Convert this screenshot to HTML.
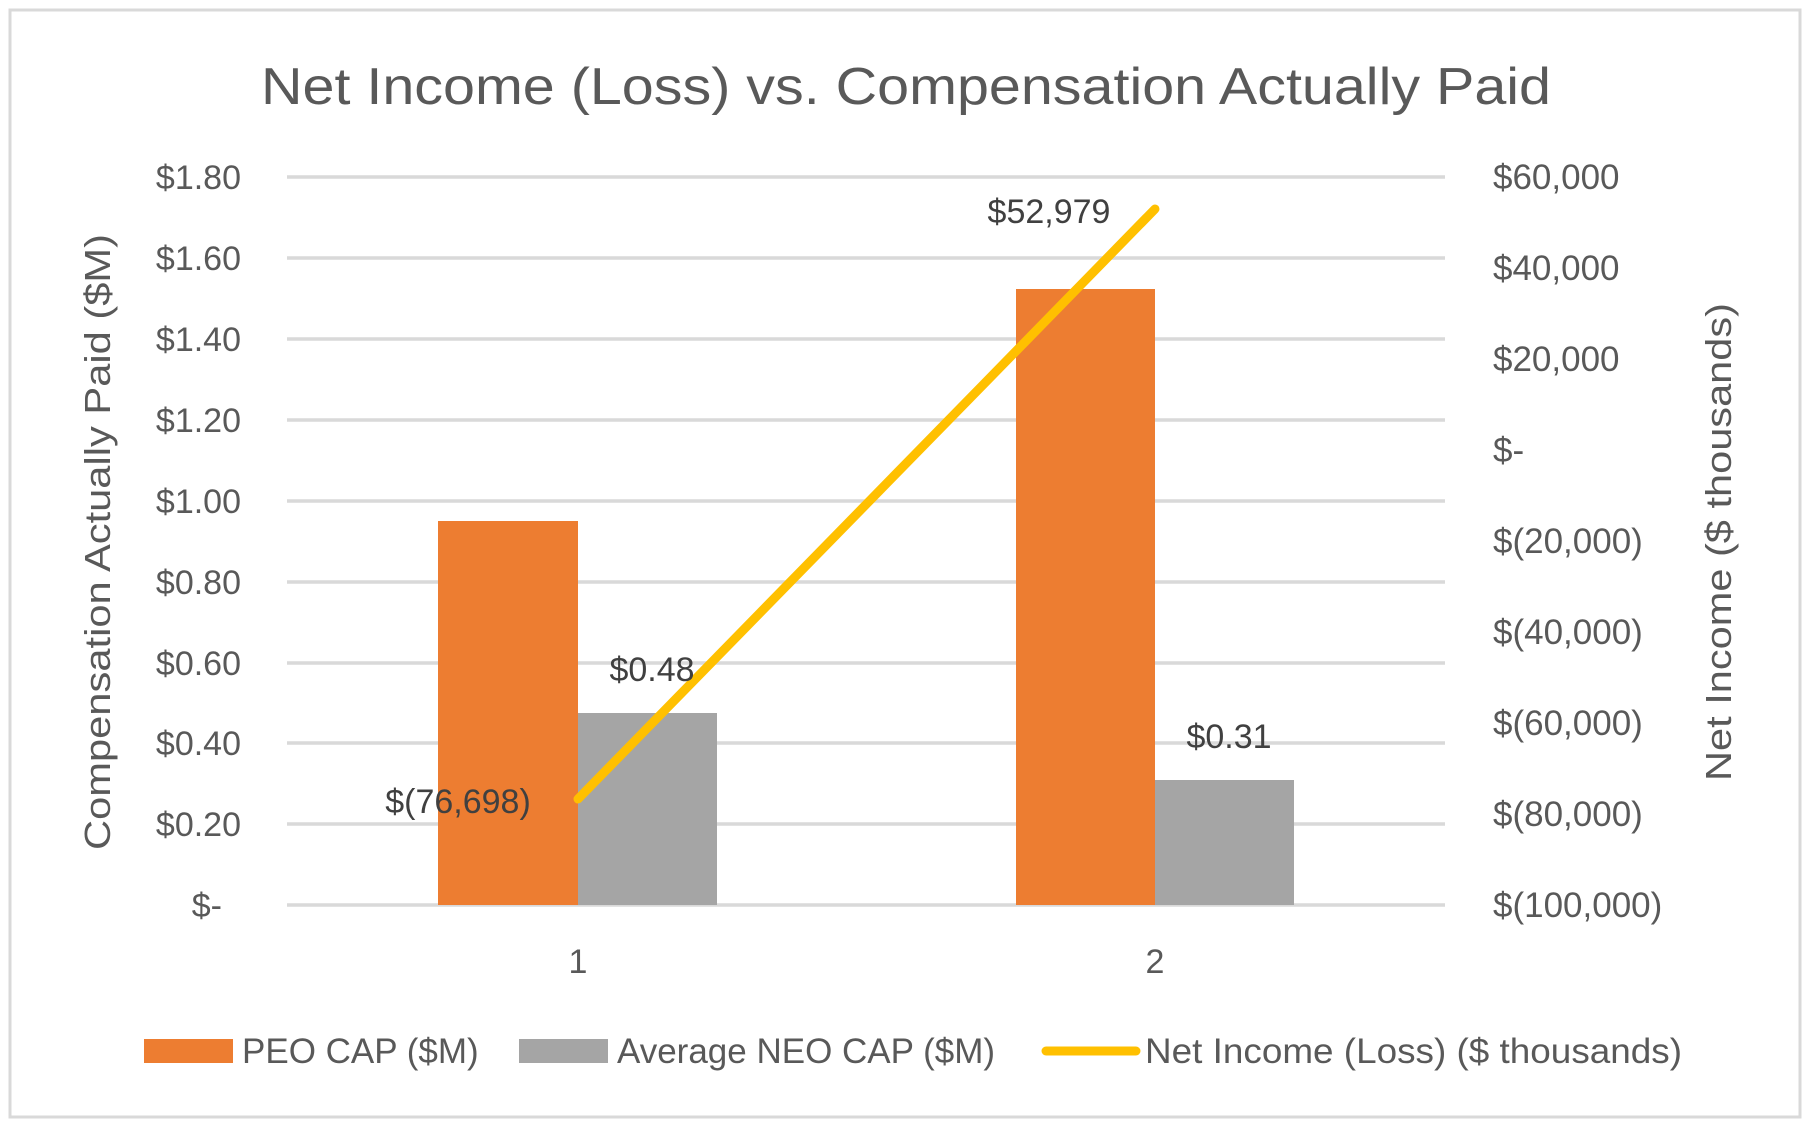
<!DOCTYPE html>
<html><head><meta charset="utf-8"><style>html,body{margin:0;padding:0;background:#fff}svg{display:block}</style></head>
<body>
<svg width="1815" height="1128" viewBox="0 0 1815 1128" xmlns="http://www.w3.org/2000/svg" font-family="Liberation Sans, sans-serif" fill="#595959">
<rect x="0" y="0" width="1815" height="1128" fill="#fff"/>
<rect x="10" y="10" width="1790" height="1107" fill="#fff" stroke="#d9d9d9" stroke-width="3"/>
<text x="906" y="104" font-size="52" text-anchor="middle" textLength="1290" lengthAdjust="spacingAndGlyphs">Net Income (Loss) vs. Compensation Actually Paid</text>
<g stroke="#d9d9d9" stroke-width="3.5">
<line x1="287" x2="1445" y1="177" y2="177"/><line x1="287" x2="1445" y1="258" y2="258"/>
<line x1="287" x2="1445" y1="339" y2="339"/><line x1="287" x2="1445" y1="420" y2="420"/>
<line x1="287" x2="1445" y1="501" y2="501"/><line x1="287" x2="1445" y1="582" y2="582"/>
<line x1="287" x2="1445" y1="663" y2="663"/><line x1="287" x2="1445" y1="743" y2="743"/>
<line x1="287" x2="1445" y1="824" y2="824"/><line x1="287" x2="1445" y1="905" y2="905"/>
</g>
<g font-size="34" text-anchor="end">
<text x="241" y="189">$1.80</text><text x="241" y="270">$1.60</text><text x="241" y="351">$1.40</text>
<text x="241" y="432">$1.20</text><text x="241" y="513">$1.00</text><text x="241" y="594">$0.80</text>
<text x="241" y="675">$0.60</text><text x="241" y="755">$0.40</text><text x="241" y="836">$0.20</text>
<text x="222" y="917">$-</text>
</g>
<g font-size="35">
<text x="1493" y="189">$60,000</text><text x="1493" y="280">$40,000</text><text x="1493" y="371">$20,000</text>
<text x="1493" y="462">$-</text><text x="1493" y="553">$(20,000)</text><text x="1493" y="644">$(40,000)</text>
<text x="1493" y="735">$(60,000)</text><text x="1493" y="826">$(80,000)</text><text x="1493" y="917">$(100,000)</text>
</g>
<rect x="438" y="521" width="140" height="384" fill="#ed7d31"/>
<rect x="578" y="713" width="139" height="192" fill="#a5a5a5"/>
<rect x="1016" y="289" width="139" height="616" fill="#ed7d31"/>
<rect x="1155" y="780" width="139" height="125" fill="#a5a5a5"/>
<line x1="578" y1="799" x2="1155" y2="209" stroke="#ffc000" stroke-width="9" stroke-linecap="round"/>
<g font-size="34" text-anchor="middle" fill="#404040">
<text x="458" y="813">$(76,698)</text><text x="652" y="681">$0.48</text>
<text x="1049" y="223">$52,979</text><text x="1229" y="748">$0.31</text>
</g>
<g font-size="34" text-anchor="middle">
<text x="578" y="973">1</text><text x="1155" y="973">2</text>
</g>
<text transform="translate(110,542) rotate(-90)" font-size="36" text-anchor="middle" textLength="616" lengthAdjust="spacingAndGlyphs">Compensation Actually Paid ($M)</text>
<text transform="translate(1731,542) rotate(-90)" font-size="36" text-anchor="middle" textLength="478" lengthAdjust="spacingAndGlyphs">Net Income ($ thousands)</text>
<rect x="144" y="1039" width="89" height="24" fill="#ed7d31"/>
<text x="242" y="1063" font-size="35">PEO CAP ($M)</text>
<rect x="519" y="1039" width="89" height="24" fill="#a5a5a5"/>
<text x="617" y="1063" font-size="35">Average NEO CAP ($M)</text>
<line x1="1046" y1="1051" x2="1136" y2="1051" stroke="#ffc000" stroke-width="9" stroke-linecap="round"/>
<text x="1145" y="1063" font-size="35" textLength="537" lengthAdjust="spacingAndGlyphs">Net Income (Loss) ($ thousands)</text>
</svg>
</body></html>
